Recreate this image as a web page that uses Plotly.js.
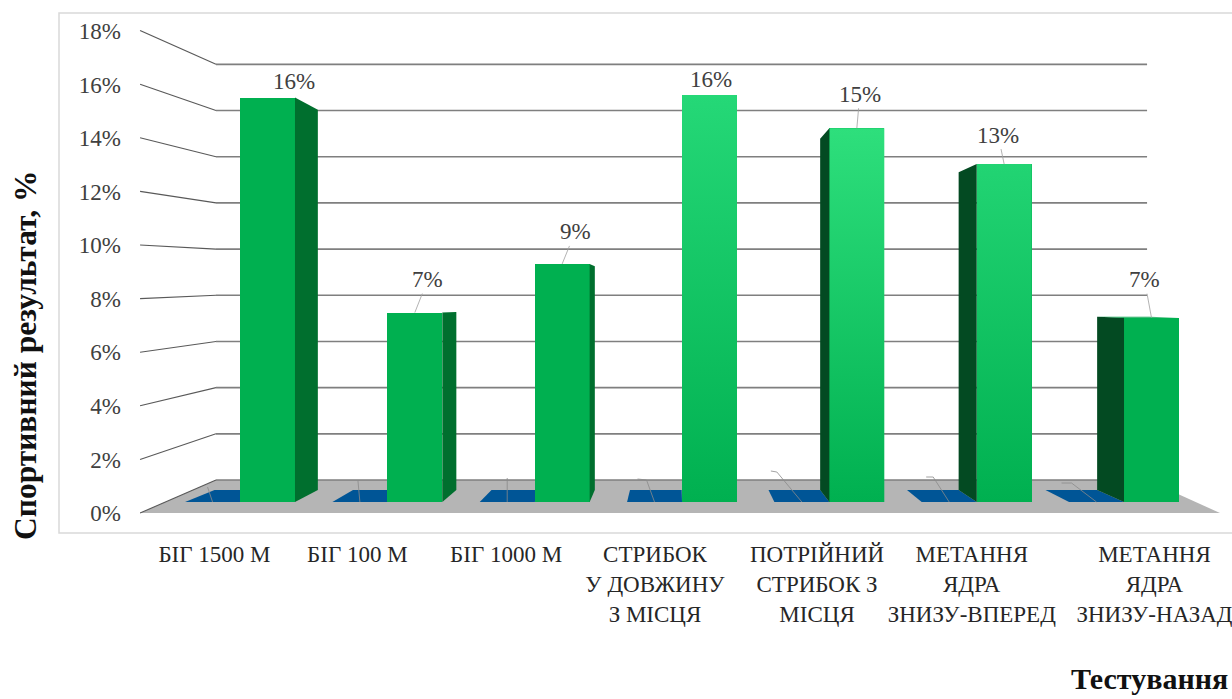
<!DOCTYPE html>
<html>
<head>
<meta charset="utf-8">
<script src="https://cdn.plot.ly/plotly-3.0.1.min.js"></script>
<style>html,body{margin:0;padding:0;background:#fff}</style>
</head>
<body>
<div id="chart" style="width:1232px;height:699px"></div>
<script>
// Test results, % of the total sports score
const categories = ["БІГ 1500 М", "БІГ 100 М", "БІГ 1000 М", "СТРИБОК У ДОВЖИНУ З МІСЦЯ",
  "ПОТРІЙНИЙ СТРИБОК З МІСЦЯ", "МЕТАННЯ ЯДРА ЗНИЗУ-ВПЕРЕД", "МЕТАННЯ ЯДРА ЗНИЗУ-НАЗАД"];
const tickLabels = ["БІГ 1500 М", "БІГ 100 М", "БІГ 1000 М", "СТРИБОК<br>У ДОВЖИНУ<br>З МІСЦЯ",
  "ПОТРІЙНИЙ<br>СТРИБОК З<br>МІСЦЯ", "МЕТАННЯ<br>ЯДРА<br>ЗНИЗУ-ВПЕРЕД", "МЕТАННЯ<br>ЯДРА<br>ЗНИЗУ-НАЗАД"];
const values = [15.8, 7.4, 9.3, 15.9, 14.6, 13.2, 7.2];
const baseSeries = [0, 0, 0, 0, 0, 0, 0];
const percentTicks = [0, 2, 4, 6, 8, 10, 12, 14, 16, 18];

// Category labels sit off the bar centres, and the value labels are placed by hand
const tickOffsets = [-0.36, -0.39, -0.38, -0.37, -0.27, -0.22, 0.02];
const labelDx = [26, 13, 13, 1, 3, -6, -7];
const labelDy = [-16, -33, -32, -15, -34, -29, -38];
const showLeader = [false, true, true, false, true, true, true];

// Thin callout lines that belong to the flat base series, in pixels from its centre
const baseLeaderDx = [[-5], [-2], [0], [-8, -17], [-25, -31], [-16, -23], [-25, -35]];
const baseLeaderDy = [[-15], [-22], [-24], [-22, -23], [-30, -31], [-25, -25], [-19, -19]];

// Front-face fills: gradient top colour where the bar is shaded, otherwise flat
const flatGreen = "#00B050";
const gradientTop = [null, null, null, "#25D877", "#2EDF7C", "#22D473", null];
const sideColor = ["#006F2E", "#006F2E", "#006F2E", null, "#034A22", "#034A22", "#034A22"];

// Axis calibration: one category step and one percent on the bar plane, in pixels
const pxPerCat = 147.33, pxPerPct = 25.6;
const barWidth = 0.373;
const vanishX = 2.773, vanishY = 7.8, depthScale = 0.94;

const back = (x, y) => [vanishX + (x - vanishX) * depthScale, vanishY + (y - vanishY) * depthScale];
const idx = values.map((_, i) => i);

function poly(points) {
  return "M" + points.map(p => p[0] + "," + p[1]).join("L") + "Z";
}

// Room box: floor, back wall grid and the slanted side-wall lines
const wallLeft = -0.3496, wallRight = 5.97, frontLeft = -0.865, frontRight = 6.465;
const wallY = v => 0.859 + 0.902 * v;
const frontY = v => -0.43 + 1.047 * v;

const shapes = [];
shapes.push({type: "rect", xref: "paper", yref: "paper", x0: 59 / 1232, x1: 1.02,
  y0: 1 - 533 / 699, y1: 1 - 13 / 699, line: {color: "#d9d9d9", width: 1.5}, layer: "below"});
shapes.push({type: "path", xref: "x", yref: "y", layer: "below", line: {width: 0}, fillcolor: "#b5b5b5",
  path: poly([[frontLeft, frontY(0)], [wallLeft, wallY(0)], [wallRight, wallY(0)], [frontRight, frontY(0)]])});
percentTicks.forEach(v => {
  shapes.push({type: "line", xref: "x", yref: "y", layer: "below", x0: wallLeft, x1: wallRight,
    y0: wallY(v), y1: wallY(v), line: {color: "#7f7f7f", width: 1.6}});
  shapes.push({type: "line", xref: "x", yref: "y", layer: "below", x0: frontLeft, x1: wallLeft,
    y0: frontY(v), y1: wallY(v), line: {color: "#595959", width: 1.1}});
});

// Flat blue base series beside each green bar
idx.forEach(i => {
  const l = i - 1.5 * barWidth, r = i - 0.5 * barWidth, b = baseSeries[i];
  shapes.push({type: "path", xref: "x", yref: "y", layer: "below", line: {width: 0}, fillcolor: "#005596",
    path: poly([[l, b], back(l, b), back(r, b), [r, b]])});
  const cx = i - barWidth;
  const pts = [[cx, b]].concat(baseLeaderDx[i].map((dx, k) =>
    [cx + dx / pxPerCat, b - baseLeaderDy[i][k] / pxPerPct]));
  shapes.push({type: "path", xref: "x", yref: "y", layer: "below", line: {color: "#8a8a8a", width: 0.8},
    path: "M" + pts.map(p => p[0] + "," + p[1]).join("L")});
});

// Front faces
const traces = [{
  type: "bar", x: idx, y: values, width: barWidth, marker: {color: flatGreen, line: {width: 0}},
  hoverinfo: "skip", showlegend: false
}];

// Gradient overlay on the shaded bars, side walls and any visible top face
idx.forEach(i => {
  const l = i - barWidth / 2, r = i + barWidth / 2, v = values[i];
  if (gradientTop[i]) {
    traces.push({type: "scatter", mode: "lines", x: [l, r, r, l, l], y: [0, 0, v, v, 0], fill: "toself",
      line: {width: 0}, hoverinfo: "skip", showlegend: false,
      fillgradient: {type: "vertical", colorscale: [[0, flatGreen], [1, gradientTop[i]]]}});
  }
  const edge = r < vanishX ? r : (l > vanishX ? l : null);
  if (edge !== null && sideColor[i]) {
    const bTop = back(edge, v), bBot = back(edge, 0);
    traces.push({type: "scatter", mode: "lines", x: [edge, bBot[0], bTop[0], edge, edge],
      y: [0, bBot[1], bTop[1], v, 0], fill: "toself", fillcolor: sideColor[i],
      line: {width: 0}, hoverinfo: "skip", showlegend: false});
  }
  if (v < vanishY) {
    const bl = back(l, v), br = back(r, v);
    traces.push({type: "scatter", mode: "lines", x: [l, r, br[0], bl[0], l],
      y: [v, v, br[1], bl[1], v], fill: "toself", fillcolor: "#00A34A",
      line: {width: 0}, hoverinfo: "skip", showlegend: false});
  }
});

// Front-edge percent scale carries the left-hand tick labels
traces.push({type: "scatter", mode: "markers", x: percentTicks.map(() => frontLeft), y: percentTicks,
  yaxis: "y2", marker: {size: 1, opacity: 0}, hoverinfo: "skip", showlegend: false});

const serif = "Liberation Serif, Times New Roman, serif";
const annotations = idx.map(i => ({
  x: i, y: values[i], xref: "x", yref: "y", axref: "pixel", ayref: "pixel",
  ax: labelDx[i], ay: labelDy[i], text: Math.round(values[i]) + "%",
  showarrow: true, arrowhead: 0, standoff: 0, arrowwidth: 0.8,
  arrowcolor: showLeader[i] ? "#a0a0a0" : "rgba(0,0,0,0)",
  font: {family: serif, size: 23, color: "#404040"}
}));
annotations.push({xref: "paper", yref: "paper", x: 25 / 1232, y: 1 - 356 / 699, textangle: -90,
  xanchor: "center", yanchor: "middle",
  text: "<b>Спортивний результат, %</b>", showarrow: false, font: {family: serif, size: 31.5, color: "#111"}});
annotations.push({xref: "paper", yref: "paper", x: 1149 / 1232, y: 1 - 678 / 699,
  xanchor: "center", yanchor: "middle",
  text: "<b>Тестування</b>", showarrow: false, font: {family: serif, size: 30, color: "#111"}});

const layout = {
  width: 1232, height: 699, margin: {l: 0, r: 0, t: 0, b: 0}, showlegend: false,
  paper_bgcolor: "#fff", plot_bgcolor: "rgba(0,0,0,0)", bargap: 0,
  xaxis: {domain: [0, 1], range: [-1.8157, 6.5465], showgrid: false, zeroline: false, showline: false,
    tickmode: "array", tickvals: idx.map(i => i + tickOffsets[i]), ticktext: tickLabels, ticks: "",
    ticklabeloverflow: "allow", tickangle: 0, tickfont: {family: serif, size: 23, color: "#262626"}},
  yaxis: {domain: [1 - 538 / 699, 1], range: [-1.406, 19.609], showgrid: false, zeroline: false,
    showline: false, showticklabels: false, ticks: ""},
  yaxis2: {overlaying: "y", anchor: "free", position: 121 / 1232, side: "left",
    range: [-0.9336, 19.157], showgrid: false, zeroline: false, showline: false,
    tickmode: "array", tickvals: percentTicks, ticktext: percentTicks.map(v => v + "%"), ticks: "",
    tickfont: {family: serif, size: 23, color: "#404040"}},
  shapes, annotations
};

Plotly.newPlot("chart", traces, layout, {displayModeBar: false, staticPlot: true});
</script>
</body>
</html>
